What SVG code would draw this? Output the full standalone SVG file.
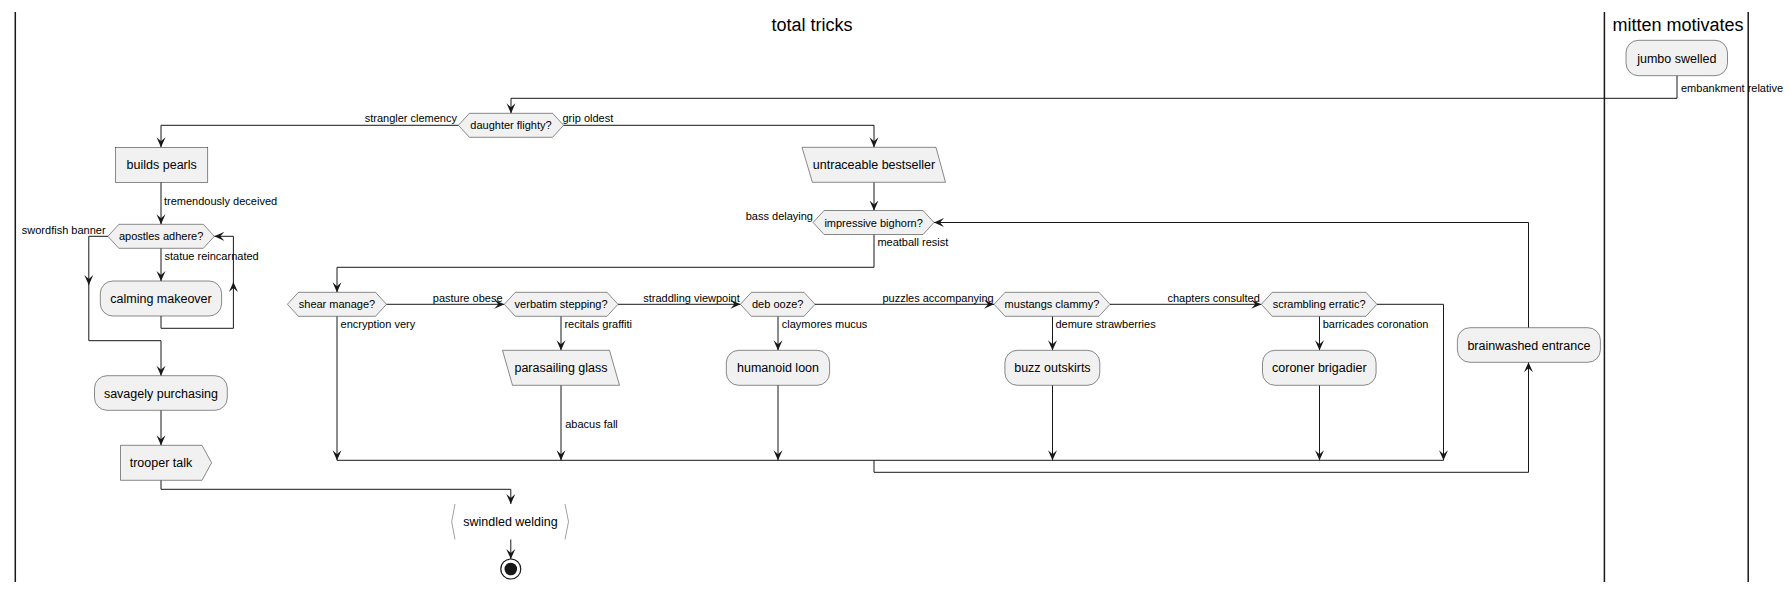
<svg xmlns="http://www.w3.org/2000/svg" width="1790" height="592" viewBox="0 0 1790 592">
<style>
.lane{stroke:#181818;stroke-width:1.5;fill:none}
.title{font-family:"Liberation Sans",Arial,sans-serif;font-size:18px;fill:#000;text-anchor:middle}
.node{fill:#F1F1F1;stroke:#181818;stroke-width:0.5}
.nt{font-family:"Liberation Sans",Arial,sans-serif;font-size:12.5px;fill:#000;text-anchor:middle}
.dt{font-family:"Liberation Sans",Arial,sans-serif;font-size:11px;fill:#000;text-anchor:middle}
.lbl{font-family:"Liberation Sans",Arial,sans-serif;font-size:11px;fill:#000}
.end{text-anchor:end}
.c{fill:none;stroke:#181818;stroke-width:1}
.ca{fill:none;stroke:#181818;stroke-width:1;marker-end:url(#ah)}
.br{fill:none;stroke:#888;stroke-width:0.8}
</style>
<defs>
<marker id="ah" viewBox="0 0 10 10" refX="10" refY="5" markerWidth="10" markerHeight="10" markerUnits="userSpaceOnUse" orient="auto">
<path d="M0,0.5 L10,5 L0,9.5 L4,5 Z" fill="#181818"/>
</marker>
</defs>
<rect width="1790" height="592" fill="#FFFFFF"/>
<g id="lanes">
<line class="lane" x1="15.3" y1="12" x2="15.3" y2="582"/>
<line class="lane" x1="1604.4" y1="12" x2="1604.4" y2="582"/>
<line class="lane" x1="1748.2" y1="12" x2="1748.2" y2="582"/>
<text class="title" x="812" y="31">total tricks</text>
<text class="title" x="1678" y="31">mitten motivates</text>
</g>
<g id="connectors">
<path class="ca" d="M1677,75.7 V98.3 H511 V113.3"/>
<path class="ca" d="M458.4,125.3 H161 V147.3"/>
<path class="ca" d="M563.6,125.3 H874 V147.3"/>
<path class="ca" d="M161,182.3 V224.3"/>
<path class="ca" d="M107.9,236.3 H88.8 V285"/>
<path class="ca" d="M88.8,284 V340.7 H161 V375.7"/>
<path class="ca" d="M161,248.3 V281"/>
<path class="ca" d="M161,316 V328.3 H233.4 V282"/>
<path class="ca" d="M233.4,283 V236.3 H214.3"/>
<path class="ca" d="M161,410.3 V445.3"/>
<path class="ca" d="M161,480.3 V489.3 H510.8 V504"/>
<path class="ca" d="M510.8,539.5 V559"/>
<path class="ca" d="M874,182.3 V210.5"/>
<path class="ca" d="M874,234.5 V267.3 H337 V292.3"/>
<path class="ca" d="M386.5,304.3 H504.3"/>
<path class="ca" d="M337,316.3 V460.3"/>
<path class="ca" d="M561,316.3 V350.3"/>
<path class="ca" d="M561,385.3 V460.3"/>
<path class="ca" d="M618,304.3 H740.4"/>
<path class="ca" d="M778,316.3 V350.3"/>
<path class="ca" d="M778,385.3 V460.3"/>
<path class="ca" d="M815,304.3 H994.1"/>
<path class="ca" d="M1052.5,316.3 V350.3"/>
<path class="ca" d="M1052.5,385.3 V460.3"/>
<path class="ca" d="M1110,304.3 H1261.3"/>
<path class="ca" d="M1319.5,316.3 V350.3"/>
<path class="ca" d="M1319.5,385.3 V460.3"/>
<path class="ca" d="M1376.9,304.3 H1443.5 V460.3"/>
<path class="c" d="M337,460.3 H1443.5"/>
<path class="ca" d="M874,460.3 V472.3 H1528.5 V362.3"/>
<path class="ca" d="M1528.5,327.7 V222.5 H934"/>
<text class="lbl" x="1681" y="91.5">embankment relative</text>
<text class="lbl end" x="457" y="122">strangler clemency</text>
<text class="lbl" x="562.5" y="122">grip oldest</text>
<text class="lbl" x="164" y="205">tremendously deceived</text>
<text class="lbl end" x="105.6" y="234">swordfish banner</text>
<text class="lbl" x="164.5" y="260">statue reincarnated</text>
<text class="lbl end" x="813" y="220">bass delaying</text>
<text class="lbl" x="877.4" y="246">meatball resist</text>
<text class="lbl" x="432.8" y="302">pasture obese</text>
<text class="lbl" x="340.6" y="328">encryption very</text>
<text class="lbl" x="564.4" y="328">recitals graffiti</text>
<text class="lbl" x="565.2" y="428">abacus fall</text>
<text class="lbl" x="643.2" y="302">straddling viewpoint</text>
<text class="lbl" x="781.8" y="328">claymores mucus</text>
<text class="lbl" x="882.4" y="302">puzzles accompanying</text>
<text class="lbl" x="1055.4" y="328">demure strawberries</text>
<text class="lbl" x="1167.5" y="302">chapters consulted</text>
<text class="lbl" x="1322.7" y="328">barricades coronation</text>
</g>
<g id="jumbo-swelled">
<rect class="node" x="1626" y="40.3" width="101.5" height="35.4" rx="12.5"/>
<text class="nt" x="1676.8" y="62.5">jumbo swelled</text>
</g>
<g id="daughter-flighty">
<polygon class="node" points="458.4,125.3 469.4,113.3 552.6,113.3 563.6,125.3 552.6,137.3 469.4,137.3"/>
<text class="dt" x="511" y="129.3">daughter flighty?</text>
</g>
<g id="builds-pearls">
<rect class="node" x="115.6" y="147.3" width="92.2" height="35"/>
<text class="nt" x="161.7" y="169.3">builds pearls</text>
</g>
<g id="untraceable-bestseller">
<polygon class="node" points="802,147.3 936,147.3 945.5,182.3 812.4,182.3"/>
<text class="nt" x="874" y="169.3">untraceable bestseller</text>
</g>
<g id="apostles-adhere">
<polygon class="node" points="107.9,236.3 118.9,224.3 203.3,224.3 214.3,236.3 203.3,248.3 118.9,248.3"/>
<text class="dt" x="161.1" y="240.3">apostles adhere?</text>
</g>
<g id="impressive-bighorn">
<polygon class="node" points="813.1,222.5 824.1,210.5 923,210.5 934,222.5 923,234.5 824.1,234.5"/>
<text class="dt" x="873.6" y="226.5">impressive bighorn?</text>
</g>
<g id="calming-makeover">
<rect class="node" x="100.3" y="281" width="121.3" height="35" rx="12.5"/>
<text class="nt" x="161" y="303">calming makeover</text>
</g>
<g id="shear-manage">
<polygon class="node" points="287.4,304.3 298.4,292.3 375.5,292.3 386.5,304.3 375.5,316.3 298.4,316.3"/>
<text class="dt" x="337" y="308.3">shear manage?</text>
</g>
<g id="verbatim-stepping">
<polygon class="node" points="504.3,304.3 515.3,292.3 607,292.3 618,304.3 607,316.3 515.3,316.3"/>
<text class="dt" x="561.1" y="308.3">verbatim stepping?</text>
</g>
<g id="deb-ooze">
<polygon class="node" points="740.4,304.3 751.4,292.3 804,292.3 815,304.3 804,316.3 751.4,316.3"/>
<text class="dt" x="777.7" y="308.3">deb ooze?</text>
</g>
<g id="mustangs-clammy">
<polygon class="node" points="994.1,304.3 1005.1,292.3 1099,292.3 1110,304.3 1099,316.3 1005.1,316.3"/>
<text class="dt" x="1052" y="308.3">mustangs clammy?</text>
</g>
<g id="scrambling-erratic">
<polygon class="node" points="1261.3,304.3 1272.3,292.3 1365.9,292.3 1376.9,304.3 1365.9,316.3 1272.3,316.3"/>
<text class="dt" x="1319.1" y="308.3">scrambling erratic?</text>
</g>
<g id="brainwashed-entrance">
<rect class="node" x="1457.4" y="327.7" width="143" height="34.6" rx="12.5"/>
<text class="nt" x="1528.9" y="349.5">brainwashed entrance</text>
</g>
<g id="parasailing-glass">
<polygon class="node" points="502.5,350.3 609.5,350.3 619.5,385.3 512.5,385.3"/>
<text class="nt" x="561" y="372.3">parasailing glass</text>
</g>
<g id="humanoid-loon">
<rect class="node" x="726.3" y="350.3" width="103.3" height="35" rx="12.5"/>
<text class="nt" x="778" y="372.3">humanoid loon</text>
</g>
<g id="buzz-outskirts">
<rect class="node" x="1004.9" y="350.3" width="94.9" height="35" rx="12.5"/>
<text class="nt" x="1052.4" y="372.3">buzz outskirts</text>
</g>
<g id="coroner-brigadier">
<rect class="node" x="1262.5" y="350.3" width="113.6" height="35" rx="12.5"/>
<text class="nt" x="1319.3" y="372.3">coroner brigadier</text>
</g>
<g id="savagely-purchasing">
<rect class="node" x="94.5" y="375.7" width="132.8" height="34.6" rx="12.5"/>
<text class="nt" x="160.9" y="397.5">savagely purchasing</text>
</g>
<g id="trooper-talk">
<polygon class="node" points="120.5,445.3 202,445.3 211.6,462.8 202,480.3 120.5,480.3"/>
<text class="nt" x="161" y="467.3">trooper talk</text>
</g>
<g id="swindled-welding">
<polyline class="br" points="455,504 451.7,521.7 455,539.5"/>
<polyline class="br" points="565,504 568.5,521.7 565,539.5"/>
<text class="nt" x="510.5" y="526">swindled welding</text>
</g>
<g id="end">
<circle cx="510.8" cy="569" r="10" fill="none" stroke="#181818" stroke-width="1.2"/>
<circle cx="510.8" cy="569" r="6.3" fill="#181818"/>
</g>
</svg>
